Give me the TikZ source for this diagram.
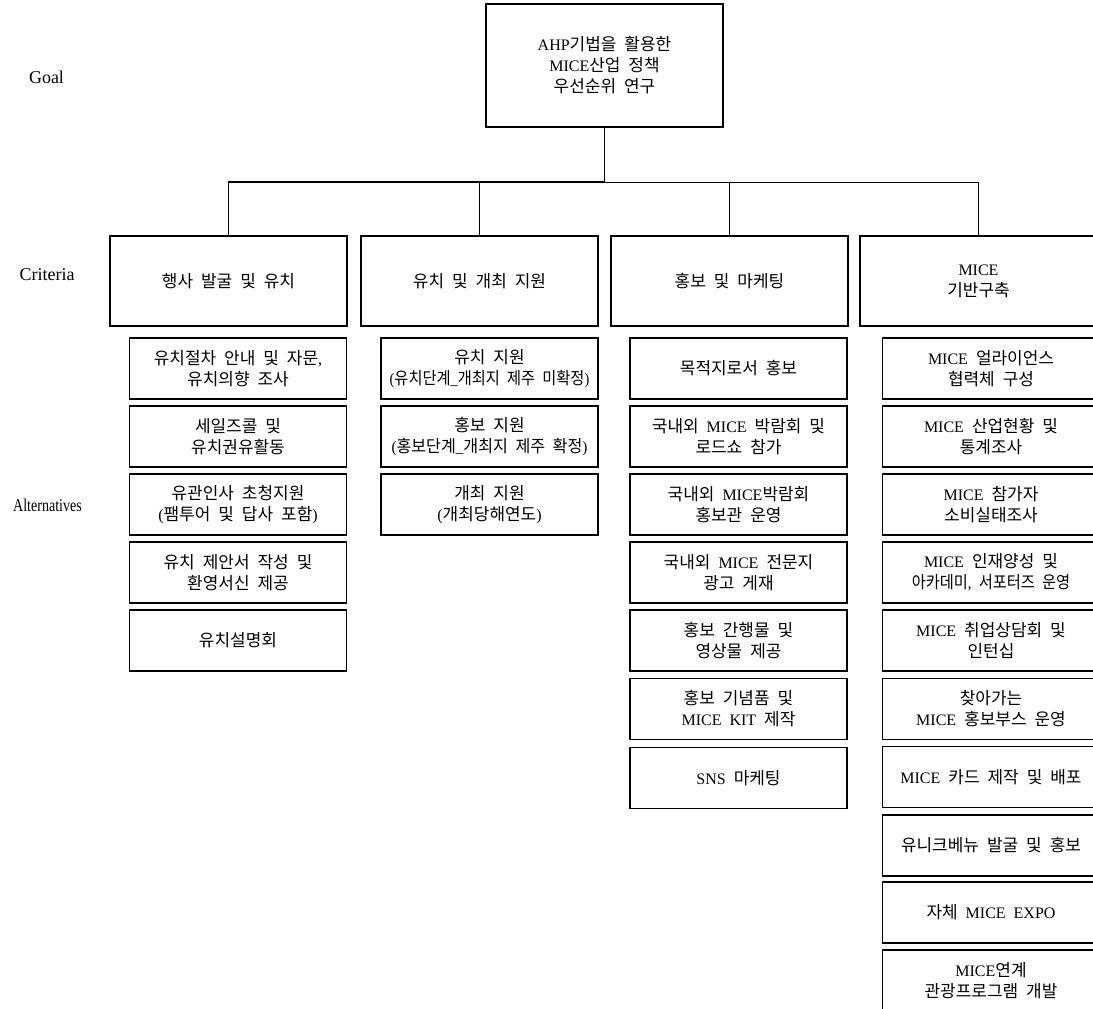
\documentclass[tikz,border=0pt]{standalone}
\usepackage{graphicx}
\usepackage{fontspec}
\setmainfont{Liberation Serif}[WordSpace=2]
\newfontfamily\krfont{Noto Sans CJK KR}[Scale=1.06, WordSpace=2.1]
\newcommand\hg[1]{{\krfont #1}}
\tikzset{
  box/.style={draw, line width=0.9pt, rectangle, align=center, inner sep=0pt,
    font=\fontsize{12}{15.75}\selectfont},
  goalbox/.style={box, minimum width=177.75pt, minimum height=92.25pt},
  critbox/.style={box, minimum width=177.75pt, minimum height=67.5pt},
  altbox/.style={box, minimum width=162.75pt, minimum height=45.75pt},
  lvl/.style={font=\fontsize{13.5}{16}\selectfont, inner sep=0pt},
  thickline/.style={line width=1.1pt},
  thinline/.style={line width=0.6pt}
}
\begin{document}
\begin{tikzpicture}[x=0.75pt, y=-0.75pt]
\useasboundingbox (0,0) rectangle (1093,1009);
\clip (0,0) rectangle (1093,1009);
% level labels
\node[lvl] (lgoal) at (46.5,77) {Goal};
\node[lvl] (lcrit) at (47,275) {Criteria};
\node[lvl] (lalt) at (47.5,505) {\scalebox{0.78}[1]{Alternatives}};
% goal
\node[goalbox] (goal) at (604.5,65.5) {AHP\hg{기법을 활용한}\\MICE\hg{산업 정책}\\\hg{우선순위 연구}};
% criteria
\node[critbox] (c1) at (228.5,281) {\hg{행사 발굴 및 유치}};
\node[critbox] (c2) at (479.5,281) {\hg{유치 및 개최 지원}};
\node[critbox] (c3) at (729.5,281) {\hg{홍보 및 마케팅}};
\node[critbox] (c4) at (978.5,281) {MICE\\\hg{기반구축}};
% connectors
\coordinate (bus) at (604.5,182);
\draw[thickline] (goal.south) -- (bus);
\draw[thickline] (bus) -| (c1.north);
\draw[thinline] (bus) -| (c2.north);
\draw[thinline] (bus) -| (c3.north);
\draw[thinline] (bus) -| (c4.north);
% alternatives column 1
\node[altbox] (a11) at (238,368.5) {\hg{유치절차 안내 및 자문},\\\hg{유치의향 조사}};
\node[altbox] (a12) at (238,436.5) {\hg{세일즈콜 및}\\\hg{유치권유활동}};
\node[altbox] (a13) at (238,504.5) {\hg{유관인사 초청지원}\\(\hg{팸투어 및 답사 포함})};
\node[altbox] (a14) at (238,572.5) {\hg{유치 제안서 작성 및}\\\hg{환영서신 제공}};
\node[altbox] (a15) at (238,640.5) {\hg{유치설명회}};
% column 2
\node[altbox] (a21) at (489.5,368.5) {\hg{유치 지원}\\\scalebox{0.9}[1]{(\hg{유치단계}\_\hg{개최지 제주 미확정})}};
\node[altbox] (a22) at (489.5,436.5) {\hg{홍보 지원}\\\scalebox{0.95}[1]{(\hg{홍보단계}\_\hg{개최지 제주 확정})}};
\node[altbox] (a23) at (489.5,504.5) {\hg{개최 지원}\\(\hg{개최당해연도})};
% column 3
\node[altbox] (a31) at (738.5,368.5) {\hg{목적지로서 홍보}};
\node[altbox] (a32) at (738.5,436.5) {\hg{국내외} MICE \hg{박람회 및}\\\hg{로드쇼 참가}};
\node[altbox] (a33) at (738.5,504.5) {\hg{국내외} MICE\hg{박람회}\\\hg{홍보관 운영}};
\node[altbox] (a34) at (738.5,572.5) {\hg{국내외} MICE \hg{전문지}\\\hg{광고 게재}};
\node[altbox] (a35) at (738.5,640.5) {\hg{홍보 간행물 및}\\\hg{영상물 제공}};
\node[altbox] (a36) at (738.5,709) {\hg{홍보 기념품 및}\\MICE KIT \hg{제작}};
\node[altbox] (a37) at (738.5,778) {SNS \hg{마케팅}};
% column 4
\node[altbox] (a41) at (991,368.5) {MICE \hg{얼라이언스}\\\hg{협력체 구성}};
\node[altbox] (a42) at (991,436.5) {MICE \hg{산업현황 및}\\\hg{통계조사}};
\node[altbox] (a43) at (991,504.5) {MICE \hg{참가자}\\\hg{소비실태조사}};
\node[altbox] (a44) at (991,572.5) {MICE \hg{인재양성 및}\\\scalebox{0.9}[1]{\hg{아카데미}, \hg{서포터즈 운영}}};
\node[altbox] (a45) at (991,640.5) {MICE \hg{취업상담회 및}\\\hg{인턴십}};
\node[altbox] (a46) at (991,709) {\hg{찾아가는}\\MICE \hg{홍보부스 운영}};
\node[altbox] (a47) at (991,777) {MICE \hg{카드 제작 및 배포}};
\node[altbox] (a48) at (991,845.5) {\hg{유니크베뉴 발굴 및 홍보}};
\node[altbox] (a49) at (991,912.5) {\hg{자체} MICE EXPO};
\node[altbox] (a410) at (991,980.5) {MICE\hg{연계}\\\hg{관광프로그램 개발}};
\end{tikzpicture}
\end{document}
